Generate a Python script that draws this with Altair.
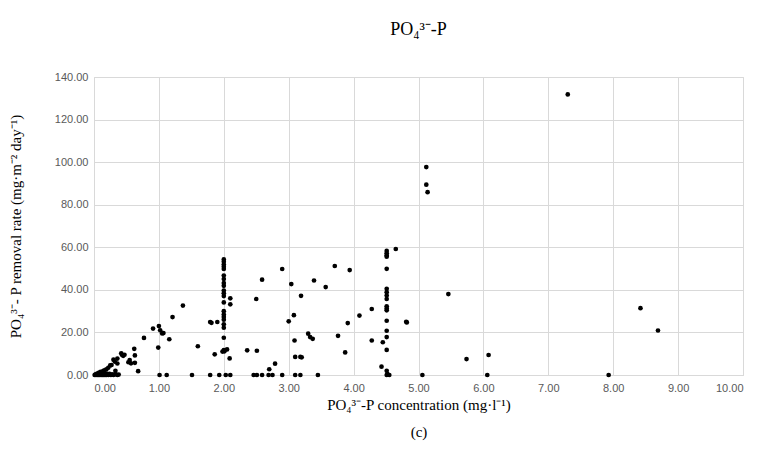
import altair as alt
import pandas as pd

# PO4-P concentration (mg/l)
conc = [
    0.01, 0.02, 0.03, 0.04, 0.05, 0.06, 0.07, 0.08, 0.09, 0.10, 0.11, 0.12, 0.13, 0.14,
    0.15, 0.16, 0.17, 0.18, 0.19, 0.20, 0.22, 0.24, 0.26, 0.28, 0.30, 0.33, 0.36, 0.38,
    0.04, 0.07, 0.10, 0.12, 0.14, 0.16, 0.19, 0.22, 0.25, 0.27, 0.30, 0.32, 0.36, 0.36,
    0.33, 0.42, 0.43, 0.45, 0.47, 0.53, 0.55, 0.57, 0.63, 0.62, 0.63, 0.68, 0.77, 0.91,
    1.00, 1.02, 1.05, 1.07, 0.99, 1.16, 1.21, 1.37, 1.60, 1.81, 1.01, 1.12, 1.51,
    1.79, 1.90, 1.86, 1.98, 2.05, 2.09, 2.10, 2.10, 2.36, 2.50, 2.51, 2.59, 2.90, 2.70, 2.79,
    2.00, 2.00, 2.00, 2.00, 2.00, 2.00, 2.00, 2.00, 2.00, 2.00, 2.00, 2.00, 2.00, 2.00,
    2.00, 2.00, 2.00, 2.00, 2.00, 2.00, 2.00, 2.01,
    1.79, 1.93, 2.03, 2.10, 2.46, 2.51, 2.59, 2.69, 2.75, 2.90, 3.10, 3.18, 3.45,
    3.00, 3.04, 3.08, 3.09, 3.10, 3.18, 3.19, 3.20, 3.30, 3.33, 3.37, 3.39, 3.57, 3.71,
    3.76, 3.87, 3.91, 3.94, 4.09, 4.28, 4.28, 4.45, 4.65, 4.81,
    4.51, 4.51, 4.51, 4.51, 4.51, 4.51, 4.51, 4.51, 4.51, 4.51, 4.51, 4.51, 4.51, 4.51,
    4.51, 4.51, 4.51, 4.52, 4.43, 4.51, 4.55,
    5.12, 5.12, 5.14, 5.46, 4.82, 5.74, 6.08, 5.06, 6.06, 7.30, 8.42, 8.69, 7.93,
]

# PO4-P removal rate (mg m-2 day-1)
rate = [
    0.0, 0.2, 0.0, 0.3, 0.0, 0.5, 0.0, 0.4, 0.0, 0.6, 0.0, 0.3, 0.0, 0.5,
    0.0, 0.8, 0.0, 0.4, 0.0, 0.6, 0.0, 0.5, 0.0, 0.3, 0.0, 0.4, 0.0, 0.2,
    0.6, 1.0, 1.5, 0.9, 1.8, 2.2, 2.6, 3.4, 4.5, 4.7, 7.2, 6.3, 7.7, 5.4,
    2.0, 10.2, 9.5, 9.0, 9.5, 6.0, 7.0, 5.5, 5.7, 12.3, 9.2, 1.8, 17.4, 21.8,
    23.0, 21.0, 19.5, 19.7, 12.9, 16.8, 27.2, 32.6, 13.5, 24.5, 0.0, 0.0, 0.0,
    24.9, 24.9, 9.7, 11.0, 12.0, 7.8, 36.0, 33.2, 11.6, 35.7, 11.4, 44.8, 49.8, 2.7, 5.3,
    54.3, 53.2, 51.9, 50.8, 49.8, 46.7, 45.1, 43.2, 41.9, 39.7, 38.4, 37.1, 34.1, 30.0,
    28.4, 27.3, 26.0, 23.8, 22.2, 17.5, 11.7, 11.1,
    0.0, 0.0, 0.0, 0.0, 0.0, 0.0, 0.0, 0.0, 0.0, 0.0, 0.0, 0.0, 0.0,
    25.2, 42.7, 28.1, 16.2, 8.5, 8.5, 37.2, 8.3, 19.4, 17.8, 17.0, 44.4, 41.3, 51.2,
    18.4, 10.6, 24.4, 49.3, 27.9, 31.0, 16.2, 15.4, 59.2, 25.0,
    58.3, 57.2, 56.2, 55.6, 49.9, 40.5, 38.9, 37.3, 35.7, 32.3, 31.3, 30.4, 25.5, 20.8,
    17.8, 11.8, 2.0, 0.5, 3.9, 0.0, 0.0,
    97.7, 89.4, 85.9, 38.0, 24.7, 7.5, 9.4, 0.0, 0.0, 131.8, 31.4, 20.9, 0.0,
]

x_ticks = [0, 1, 2, 3, 4, 5, 6, 7, 8, 9, 10]
y_ticks = [0, 20, 40, 60, 80, 100, 120, 140]

df = pd.DataFrame({"conc": conc, "rate": rate})

grid_col = "#d9d9d9"
label_col = "#595959"
serif = "Liberation Serif"

chart = (
    alt.Chart(df)
    .mark_circle(size=22, color="black", opacity=1)
    .encode(
        x=alt.X(
            "conc:Q",
            scale=alt.Scale(domain=[0, 10], nice=False),
            axis=alt.Axis(
                values=x_ticks,
                format=".2f",
                title=["PO₄³⁻-P concentration (mg·l⁻¹)", "(c)"],
                titleFont=serif,
                titleFontSize=15,
                titleFontWeight="normal",
                titleColor="black",
                titlePadding=4,
                titleLineHeight=27,
                labelFont="Liberation Sans",
                labelFontSize=11,
                labelColor=label_col,
                labelPadding=7,
                ticks=False,
                domainColor=grid_col,
                gridColor=grid_col,
            ),
        ),
        y=alt.Y(
            "rate:Q",
            scale=alt.Scale(domain=[0, 140], nice=False),
            axis=alt.Axis(
                values=y_ticks,
                format=".2f",
                title="PO₄³⁻- P removal rate (mg·m⁻² day⁻¹)",
                titleFont=serif,
                titleFontSize=15,
                titleFontWeight="normal",
                titleColor="black",
                titlePadding=31,
                labelFont="Liberation Sans",
                labelFontSize=11,
                labelColor=label_col,
                labelPadding=6,
                ticks=False,
                domain=False,
                gridColor=grid_col,
            ),
        ),
    )
    .properties(
        width=649,
        height=298,
        padding={"left": 0, "top": 13, "right": 5, "bottom": 5},
        title=alt.TitleParams(
            "PO₄³⁻-P",
            font=serif,
            fontSize=18,
            fontWeight="normal",
            color="black",
            offset=32,
            anchor="middle",
        ),
    )
    .configure_view(stroke=grid_col)
)

chart.save("out.html", embed_options={"renderer": "svg", "actions": False})
